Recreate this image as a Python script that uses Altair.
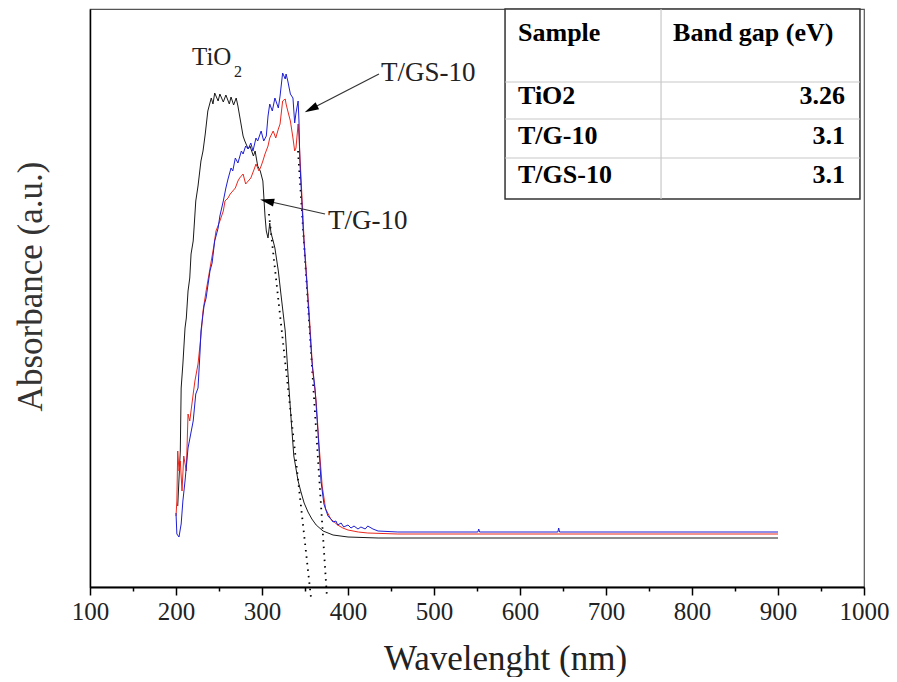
import altair as alt
import pandas as pd

# ---------------- data ----------------
tio2_nm = [202, 205, 206, 208, 210.5, 212, 214, 216, 217.5, 220, 221, 223, 225.6, 229, 231.4, 234, 237, 241, 243, 245,
           249, 251, 255, 258, 262, 264, 267, 270, 272, 276, 278, 280, 284, 286, 290, 292, 295, 298, 301, 303.5,
           305, 307, 309, 310.5, 313, 315, 319, 322, 327, 330, 334, 337, 342, 345, 349, 353.5, 358, 363, 371, 382.6,
           400, 435, 900]
tio2_abs = [0.81, 1.36, 1.99, 2.23, 2.59, 2.69, 2.96, 3.09, 3.33, 3.46, 3.59, 3.86, 4.01, 4.26, 4.36, 4.53, 4.76, 4.89, 4.83, 4.94,
            4.86, 4.93, 4.85, 4.92, 4.83, 4.90, 4.82, 4.89, 4.81, 4.61, 4.51, 4.46, 4.38, 4.41, 4.31, 4.36, 4.21, 4.16, 4.06, 3.71,
            3.56, 3.49, 3.64, 3.54, 3.46, 3.39, 3.16, 2.93, 2.56, 2.16, 1.66, 1.31, 1.06, 0.96, 0.84, 0.75, 0.68, 0.62, 0.56, 0.52,
            0.50, 0.49, 0.49]

tgs_nm = [200, 201, 203.5, 205, 206, 208, 210.5, 214, 216, 220, 223, 225.6, 228, 229, 232.6, 235, 237, 239.5, 242, 245,
          249, 251, 255, 258, 260.5, 264, 266, 269, 272, 276, 278, 281, 284, 287, 289.5, 293, 295, 299, 302, 305,
          307, 309, 312, 315, 319, 321, 324, 327, 328, 330, 333, 336, 338, 339.5, 342, 343, 344, 348, 353.5, 358,
          361.6, 365, 368.6, 372, 376.7, 380, 382.6, 386, 388, 392, 395, 400, 403.5, 407, 411.6, 415, 420, 423, 429, 435,
          458, 551, 552, 553, 644, 645, 646, 900]
tgs_abs = [0.74, 0.53, 0.50, 0.58, 0.63, 0.86, 1.06, 1.39, 1.48, 1.66, 1.93, 1.99, 2.36, 2.56, 2.81, 2.89, 3.01, 3.16, 3.24, 3.46,
           3.59, 3.71, 3.86, 3.99, 4.08, 4.19, 4.16, 4.29, 4.24, 4.36, 4.33, 4.41, 4.38, 4.44, 4.36, 4.49, 4.46, 4.56, 4.46, 4.51,
           4.71, 4.83, 4.76, 4.89, 4.79, 4.91, 5.14, 5.08, 5.13, 5.06, 4.93, 4.89, 4.64, 4.74, 4.86, 4.66, 4.26, 3.56, 2.86, 2.26,
           1.99, 1.56, 1.06, 0.83, 0.71, 0.68, 0.65, 0.66, 0.62, 0.64, 0.60, 0.62, 0.59, 0.61, 0.58, 0.60, 0.58, 0.61, 0.58, 0.56,
           0.55, 0.55, 0.58, 0.55, 0.55, 0.59, 0.55, 0.55]

tg_nm = [200, 201, 202, 203.5, 205, 207, 209, 212, 214, 216, 220, 222, 225.6, 229, 231.4, 235, 237, 241, 244, 246.5,
         251, 255, 257, 260.5, 263, 266, 269, 272, 274, 278, 281, 284, 287, 291, 293, 296.5, 299, 301, 303.5, 307,
         309, 313, 316, 319, 321, 324, 327, 328, 330, 333, 336, 338, 339.5, 342, 343, 345, 349, 354.7, 359, 363,
         366, 370, 374, 380, 388, 394, 400, 412, 423, 458, 900]
tg_abs = [0.71, 0.86, 1.36, 1.16, 1.26, 0.96, 1.31, 1.16, 1.73, 1.66, 1.93, 2.06, 2.23, 2.51, 2.76, 2.96, 3.06, 3.26, 3.41, 3.56,
          3.66, 3.76, 3.86, 3.89, 3.93, 3.96, 3.99, 4.06, 4.09, 4.13, 4.03, 4.06, 4.09, 4.18, 4.23, 4.16, 4.21, 4.26, 4.33, 4.41,
          4.49, 4.56, 4.49, 4.58, 4.63, 4.86, 4.88, 4.83, 4.76, 4.66, 4.49, 4.36, 4.39, 4.63, 4.51, 4.16, 3.46, 2.76, 2.16, 1.86,
          1.46, 1.01, 0.78, 0.68, 0.62, 0.59, 0.57, 0.55, 0.54, 0.53, 0.53]

# tangent (band-gap extrapolation) lines
tan_tio2_nm = [308.1, 357]
tan_tio2_abs = [3.73, -0.11]
tan_tg_nm = [341.9, 375.6]
tan_tg_abs = [4.36, -0.11]

# curve labels and arrows
label_text = ["T/GS-10", "T/G-10"]
label_nm = [438.4, 376.7]
label_abs = [5.06, 3.58]
arrow_from_nm = [436, 373.3]
arrow_from_abs = [5.13, 3.73]
arrow_to_nm = [357, 305.8]
arrow_to_abs = [4.78, 3.86]
arrow_angle = [242.8, 283]

# inset table
tbl_cols = ["Sample", "Band gap (eV)"]
tbl_samples = ["TiO2", "T/G-10", "T/GS-10"]
tbl_gaps = ["3.26", "3.1", "3.1"]

FONT = "Liberation Serif"
XD = [100, 1000]
YD = [0, 5.78]


def xenc(field="nm"):
    return alt.X(
        f"{field}:Q",
        scale=alt.Scale(domain=XD, nice=False, zero=False),
        axis=alt.Axis(
            values=list(range(100, 1001, 50)),
            format="d",
            labelExpr="datum.value % 100 === 0 ? datum.label : ''",
            tickSize={"condition": {"test": "datum.value % 100 === 0", "value": 8}, "value": 4},
            tickColor="black", tickWidth=1.5,
            domainColor="black", domainWidth=1.8,
            labelFont=FONT, labelFontSize=25, labelColor="#222", labelPadding=4,
            labelFlush=False, labelOverlap=False, grid=False,
            title="Wavelenght (nm)", titleFont=FONT, titleFontSize=35, titleFontWeight="normal",
            titleColor="#222", titleX=415, titleY=82, titleBaseline="alphabetic", titleAlign="center",
        ),
    )


def yenc(field="abs"):
    return alt.Y(
        f"{field}:Q",
        scale=alt.Scale(domain=YD, nice=False, zero=False),
        axis=alt.Axis(
            labels=False, ticks=False, grid=False,
            domainColor="black", domainWidth=1.5,
            title="Absorbance (a.u.)", titleFont=FONT, titleFontSize=35, titleFontWeight="normal",
            titleColor="#333", titleX=-60, titleY=277, titleAngle=270,
            titleAlign="center", titleBaseline="middle",
        ),
    )


def frame(nm, ab):
    return pd.DataFrame({"nm": nm, "abs": ab})


black = alt.Chart(frame(tio2_nm, tio2_abs)).mark_line(color="#1a1a1a", strokeWidth=1).encode(x=xenc(), y=yenc())
red = alt.Chart(frame(tg_nm, tg_abs)).mark_line(color="#e8281e", strokeWidth=1).encode(x=xenc(), y=yenc())
blue = alt.Chart(frame(tgs_nm, tgs_abs)).mark_line(color="#1e1ed2", strokeWidth=1).encode(x=xenc(), y=yenc())

tan1 = alt.Chart(frame(tan_tio2_nm, tan_tio2_abs)).mark_line(
    color="black", strokeWidth=1.8, strokeDash=[1.5, 5], clip=False).encode(x=xenc(), y=yenc())
tan2 = alt.Chart(frame(tan_tg_nm, tan_tg_abs)).mark_line(
    color="black", strokeWidth=1.8, strokeDash=[1.5, 5], clip=False).encode(x=xenc(), y=yenc())

arrows_df = pd.DataFrame({"nm": arrow_from_nm, "abs": arrow_from_abs,
                          "nm2": arrow_to_nm, "abs2": arrow_to_abs, "ang": arrow_angle})
arrow_lines = alt.Chart(arrows_df).mark_rule(color="#333", strokeWidth=1.2).encode(
    x=xenc(), y=yenc(), x2="nm2:Q", y2="abs2:Q")
heads = alt.Chart(arrows_df).mark_point(
    shape="M0,-1L0.55,1L-0.55,1Z", filled=True, color="black", opacity=1, size=200).encode(
    x=xenc("nm2"), y=yenc("abs2"), angle=alt.Angle("ang:Q", scale=None))

labels_df = pd.DataFrame({"nm": label_nm, "abs": label_abs, "t": label_text})
labels = alt.Chart(labels_df).mark_text(
    font=FONT, fontSize=27, align="left", baseline="alphabetic", color="#222").encode(
    x=xenc(), y=yenc(), text="t:N")

tio_main = alt.Chart(pd.DataFrame({"nm": [218.6], "abs": [5.22], "t": ["TiO"]})).mark_text(
    font=FONT, fontSize=25, align="left", baseline="alphabetic", color="#222").encode(
    x=xenc(), y=yenc(), text="t:N")
tio_sub = alt.Chart(pd.DataFrame({"nm": [267.5], "abs": [5.10], "t": ["2"]})).mark_text(
    font=FONT, fontSize=16, align="left", baseline="alphabetic", color="#222").encode(
    x=xenc(), y=yenc(), text="t:N")

# ---- inset table ----
tbl_box = alt.Chart(pd.DataFrame({"nm": [582.6], "nm2": [995.3], "abs": [5.78], "abs2": [3.88]})).mark_rect(
    fill="white", stroke="#333", strokeWidth=1.5).encode(x=xenc(), x2="nm2:Q", y=yenc(), y2="abs2:Q")
tbl_hlines = alt.Chart(pd.DataFrame({"nm": [582.6] * 3, "nm2": [995.3] * 3, "abs": [5.05, 4.68, 4.29]})).mark_rule(
    color="#c8c8c8", strokeWidth=1.2).encode(x=xenc(), x2="nm2:Q", y=yenc())
tbl_vline = alt.Chart(pd.DataFrame({"nm": [764], "abs": [5.78], "abs2": [3.88]})).mark_rule(
    color="#c8c8c8", strokeWidth=1.2).encode(x=xenc(), y=yenc(), y2="abs2:Q")
head_txt = alt.Chart(pd.DataFrame({"nm": [597.7, 778], "abs": [5.46, 5.46], "t": tbl_cols})).mark_text(
    font=FONT, fontSize=26, fontWeight="bold", align="left", baseline="alphabetic", color="black").encode(
    x=xenc(), y=yenc(), text="t:N")
row_abs = [4.83, 4.43, 4.04]
name_txt = alt.Chart(pd.DataFrame({"nm": [597.7] * 3, "abs": row_abs, "t": tbl_samples})).mark_text(
    font=FONT, fontSize=26, fontWeight="bold", align="left", baseline="alphabetic", color="black").encode(
    x=xenc(), y=yenc(), text="t:N")
gap_txt = alt.Chart(pd.DataFrame({"nm": [978] * 3, "abs": row_abs, "t": tbl_gaps})).mark_text(
    font=FONT, fontSize=26, fontWeight="bold", align="right", baseline="alphabetic", color="black").encode(
    x=xenc(), y=yenc(), text="t:N")

chart = alt.layer(
    tan1, tan2, black, red, blue, arrow_lines, heads, labels, tio_main, tio_sub,
    tbl_box, tbl_hlines, tbl_vline, head_txt, name_txt, gap_txt,
).properties(
    width=774, height=578,
    autosize=alt.AutoSizeParams(type="none"),
    padding={"left": 82, "top": 1, "right": 25, "bottom": 90},
    background="white",
).configure_view(stroke="#555", strokeWidth=1.2)

chart.save("out.html", embed_options={"renderer": "svg", "actions": False})
